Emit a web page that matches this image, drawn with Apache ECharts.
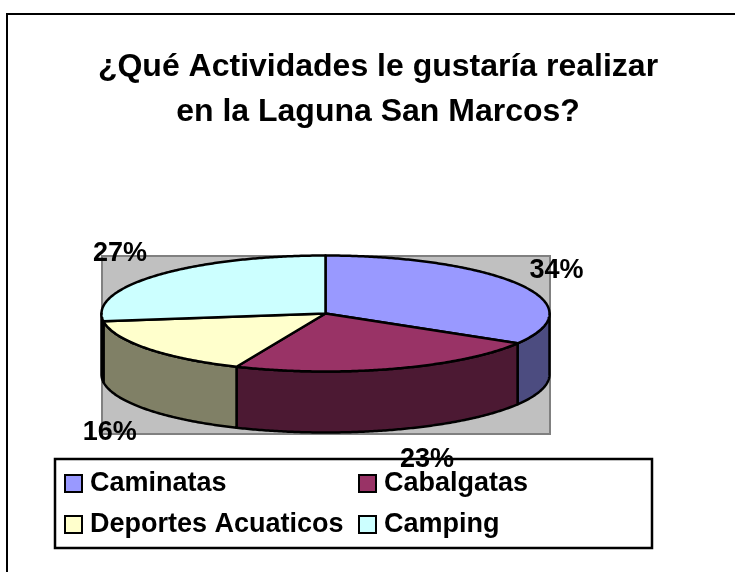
<!DOCTYPE html>
<html>
<head>
<meta charset="utf-8">
<title>Laguna San Marcos</title>
<script src="https://cdn.jsdelivr.net/npm/echarts@6/dist/echarts.min.js"></script>
<style>
  html, body { margin: 0; padding: 0; background: #fff; }
  #chart { width: 735px; height: 572px; }
</style>
</head>
<body>
<div id="chart"></div>
<script>
const categories = ['Caminatas', 'Cabalgatas', 'Deportes Acuaticos', 'Camping'];
const values = [33.6, 22.9, 16.4, 27.1];
const topColors = ['#9999FF', '#993366', '#FFFFCC', '#CCFFFF'];
const sideColors = ['#4C4C80', '#4C1933', '#808066', '#668080'];
// nudge of each % label from the rim point at the middle of its slice
const labelNudges = [[9, -14], [6, 91], [-64, 84], [-64, -22]];

const font = '"Liberation Sans", Arial, sans-serif';
const cx = 325.5, cy = 313.5, rx = 224, ry = 58, depth = 61;
const total = values.reduce((a, b) => a + b, 0);

// clockwise from 12 o'clock, in radians
const toAngle = v => (v / total) * Math.PI * 2;
const rim = (a, dy) => [cx + rx * Math.sin(a), cy - ry * Math.cos(a) + dy];

const arc = (a1, a2, dy) => {
  const n = Math.max(2, Math.ceil((a2 - a1) / 0.01));
  const pts = [];
  for (let i = 0; i <= n; i++) pts.push(rim(a1 + (a2 - a1) * i / n, dy));
  return pts;
};

const chart = echarts.init(document.getElementById('chart'));

let acc = 0;
const series = categories.map((name, i) => {
  const start = acc;
  acc += values[i];
  return {
    name,
    type: 'custom',
    coordinateSystem: 'none',
    silent: true,
    itemStyle: { color: topColors[i] },
    data: [[start, start + values[i]]],
    renderItem(params, api) {
      const a1 = toAngle(api.value(0));
      const a2 = toAngle(api.value(1));
      const children = [];
      // only the front half of the rim shows a wall
      const s1 = Math.max(a1, Math.PI / 2);
      const s2 = Math.min(a2, Math.PI * 1.5);
      if (s2 > s1) {
        const wall = arc(s1, s2, 0).concat(arc(s1, s2, depth).reverse());
        children.push({
          type: 'polygon',
          shape: { points: wall },
          style: { fill: sideColors[i], stroke: '#000', lineWidth: 2.5, lineJoin: 'round' }
        });
      }
      children.push({
        type: 'polygon',
        shape: { points: [[cx, cy]].concat(arc(a1, a2, 0)) },
        style: { fill: topColors[i], stroke: '#000', lineWidth: 2.5, lineJoin: 'round' }
      });
      const mid = rim((a1 + a2) / 2, 0);
      children.push({
        type: 'text',
        z2: 100,
        style: {
          text: Math.round(values[i] / total * 100) + '%',
          x: mid[0] + labelNudges[i][0],
          y: mid[1] + labelNudges[i][1],
          align: 'left',
          verticalAlign: 'middle',
          font: 'bold 27px ' + font,
          fill: '#000'
        }
      });
      return { type: 'group', children };
    }
  };
});

const legendBase = {
  orient: 'vertical',
  top: 465,
  itemWidth: 17,
  itemHeight: 17,
  itemGap: 14,
  selectedMode: false,
  icon: 'rect',
  textStyle: { fontFamily: font, fontWeight: 'bold', fontSize: 27, color: '#000', padding: [0, 0, 0, 3] }
};

chart.setOption({
  animation: false,
  backgroundColor: '#fff',
  title: {
    text: '¿Qué Actividades le gustaría realizar\nen la Laguna San Marcos?',
    left: 373,
    top: 40,
    textAlign: 'center',
    textStyle: { fontFamily: font, fontWeight: 'bold', fontSize: 32, lineHeight: 45, color: '#000' }
  },
  legend: [
    Object.assign({}, legendBase, {
      left: 59,
      data: [categories[0], categories[2]].map(name => ({ name, itemStyle: { borderColor: '#000', borderWidth: 2 } }))
    }),
    Object.assign({}, legendBase, {
      left: 353,
      data: [categories[1], categories[3]].map(name => ({ name, itemStyle: { borderColor: '#000', borderWidth: 2 } }))
    })
  ],
  graphic: [
    { type: 'rect', z: 0, silent: true, shape: { x: 7, y: 14, width: 900, height: 800 }, style: { fill: '#fff', stroke: '#000', lineWidth: 2 } },
    { type: 'rect', z: 0, silent: true, shape: { x: 102, y: 256, width: 448, height: 178 }, style: { fill: '#C0C0C0', stroke: '#808080', lineWidth: 2 } },
    { type: 'rect', z: 1, silent: true, shape: { x: 55, y: 459, width: 597, height: 89 }, style: { fill: '#fff', stroke: '#000', lineWidth: 2.5 } }
  ],
  series
});
</script>
</body>
</html>
